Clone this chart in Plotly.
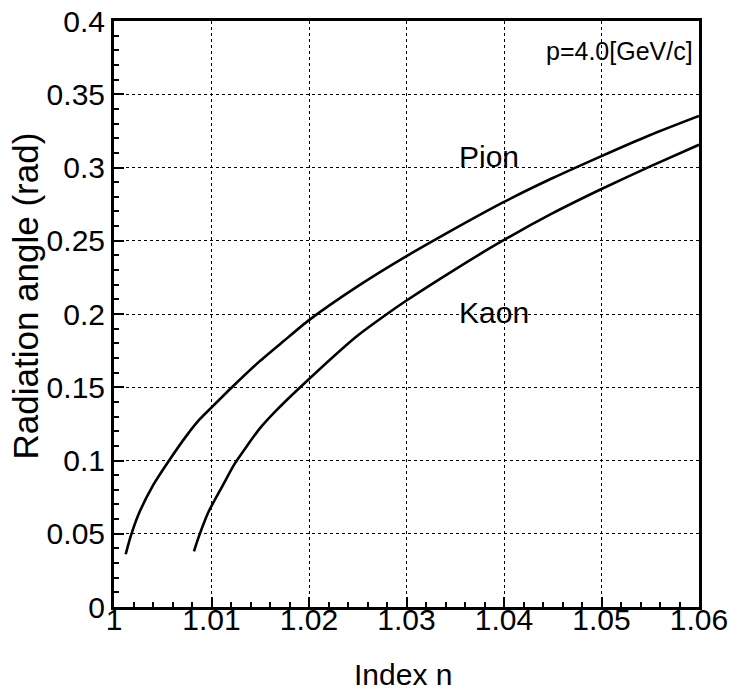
import plotly.graph_objects as go

# Values
pion_n = [1.0012, 1.0017, 1.0025, 1.0040, 1.0056, 1.0075, 1.0088, 1.0100, 1.0121,
          1.0149, 1.0174, 1.0200, 1.0249, 1.0300, 1.0340, 1.0400, 1.0450, 1.0500,
          1.0550, 1.0600]
pion_theta = [0.036, 0.048, 0.0630, 0.0830, 0.0995, 0.1175, 0.1282, 0.1362, 0.1500,
              0.1675, 0.1815, 0.1958, 0.2185, 0.2395, 0.2547, 0.2765, 0.2928, 0.3078,
              0.3222, 0.3352]

kaon_n = [1.0082, 1.0087, 1.0097, 1.0112, 1.0124, 1.0149, 1.0167, 1.0191,
          1.0249, 1.0280, 1.0300, 1.0350, 1.0396, 1.0450, 1.0500, 1.0550, 1.0600]
kaon_theta = [0.038, 0.048, 0.0650, 0.0835, 0.0980, 0.1214, 0.1345, 0.1500,
              0.1848, 0.2000, 0.2092, 0.2305, 0.2490, 0.2688, 0.2853, 0.3008, 0.3155]

x_ticks = [1.00, 1.01, 1.02, 1.03, 1.04, 1.05, 1.06]
x_tick_labels = ["1", "1.01", "1.02", "1.03", "1.04", "1.05", "1.06"]
y_ticks = [0, 0.05, 0.1, 0.15, 0.2, 0.25, 0.3, 0.35, 0.4]
y_tick_labels = ["0", "0.05", "0.1", "0.15", "0.2", "0.25", "0.3", "0.35", "0.4"]

FONT = "Liberation Sans"

fig = go.Figure()
fig.add_trace(go.Scatter(x=pion_n, y=pion_theta, mode="lines", name="Pion",
                         line=dict(color="black", width=2.6, shape="spline", smoothing=0.6),
                         showlegend=False))
fig.add_trace(go.Scatter(x=kaon_n, y=kaon_theta, mode="lines", name="Kaon",
                         line=dict(color="black", width=2.6, shape="spline", smoothing=0.6),
                         showlegend=False))

axis_common = dict(
    showline=True, linecolor="black", linewidth=3, mirror=True,
    ticks="inside", ticklen=10, tickwidth=2, tickcolor="black",
    showgrid=True, gridcolor="black", gridwidth=1, griddash="dot",
    zeroline=False, automargin=False, ticklabeloverflow="allow",
    tickfont=dict(family=FONT, size=30, color="black"),
)

fig.update_xaxes(range=[1.0, 1.06], tickvals=x_ticks, ticktext=x_tick_labels,
                 minor=dict(dtick=0.002, ticklen=5, tickwidth=2, tickcolor="black",
                            ticks="inside", showgrid=False),
                 ticklabelstandoff=-16, **axis_common)
fig.update_yaxes(range=[0, 0.4], tickvals=y_ticks, ticktext=y_tick_labels,
                 minor=dict(dtick=0.01, ticklen=5, tickwidth=2, tickcolor="black",
                            ticks="inside", showgrid=False),
                 ticklabelstandoff=0, **axis_common)

annotations = [
    dict(text="Pion", x=1.0352, y=0.3075, xref="x", yref="y", xanchor="left",
         yanchor="middle", showarrow=False, font=dict(family=FONT, size=30, color="black")),
    dict(text="Kaon", x=1.0352, y=0.2009, xref="x", yref="y", xanchor="left",
         yanchor="middle", showarrow=False, font=dict(family=FONT, size=30, color="black")),
    dict(text="p=4.0[GeV/c]", x=0.993, y=0.948, xref="paper", yref="paper",
         xanchor="right", yanchor="middle", showarrow=False,
         font=dict(family=FONT, size=25, color="black")),
    dict(text="Index n", x=0.494, y=-0.116, xref="paper", yref="paper",
         xanchor="center", yanchor="middle", showarrow=False,
         font=dict(family=FONT, size=30, color="black")),
    dict(text="Radiation angle (rad)", x=-0.152, y=0.53, xref="paper", yref="paper",
         xanchor="center", yanchor="middle", showarrow=False, textangle=-90,
         font=dict(family=FONT, size=35, color="black")),
]

fig.update_layout(
    width=742, height=699,
    margin=dict(l=114, r=43, t=21, b=92),
    paper_bgcolor="white", plot_bgcolor="white",
    annotations=annotations,
    font=dict(family=FONT, color="black"),
    hovermode=False,
)

# remove the browser's default body margin so the figure fills the window
fig.write_html("out.html",
               config={"displayModeBar": False, "staticPlot": True},
               post_script="document.body.style.margin='0';document.body.style.overflow='hidden';")
